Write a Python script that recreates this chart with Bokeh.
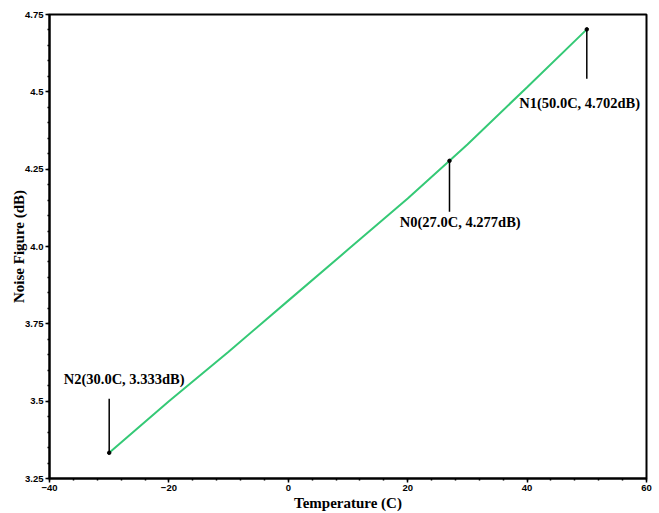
from bokeh.plotting import figure
from bokeh.models import FixedTicker, Range1d, ColumnDataSource
from bokeh.embed import file_html
from bokeh.resources import INLINE
from bokeh.core.properties import value

# ---- data ----
temp_c = [-30, -20, -10, 0, 10, 20, 27, 30, 40, 50]
noise_figure_db = [3.333, 3.50, 3.66, 3.825, 3.99, 4.155, 4.277, 4.33, 4.515, 4.702]

marker_names = ["N2", "N0", "N1"]
marker_temp = [-30.0, 27.0, 50.0]
marker_nf = [3.333, 4.277, 4.702]
marker_label_temp = [30.0, 27.0, 50.0]   # as printed on the chart

x_ticks = [-40, -20, 0, 20, 40, 60]
y_ticks = [3.25, 3.5, 3.75, 4.0, 4.25, 4.5, 4.75]
y_tick_labels = ["3.25", "3.5", "3.75", "4.0", "4.25", "4.5", "4.75"]

# ---- annotation styling (offsets) ----
leader_dy = [0.175, -0.165, -0.16]
label_dx = [2.5, 1.8, -1.2]
label_dy = [0.24, -0.198, -0.239]

p = figure(width=659, height=513, output_backend="svg", toolbar_location=None,
           x_range=Range1d(-40, 60), y_range=Range1d(3.25, 4.75),
           min_border_left=49, min_border_right=13, min_border_top=14, min_border_bottom=34)
p.background_fill_color = "white"
p.border_fill_color = "white"
p.outline_line_color = "black"
p.outline_line_width = 2
p.grid.visible = False

p.line(temp_c, noise_figure_db, line_color="#35c976", line_width=2)

src = ColumnDataSource(dict(
    x=marker_temp,
    y=marker_nf,
    y1=[v + d for v, d in zip(marker_nf, leader_dy)],
    lx=[t + d for t, d in zip(marker_temp, label_dx)],
    ly=[v + d for v, d in zip(marker_nf, label_dy)],
    text=[f"{n}({t:.1f}C, {v:.3f}dB)" for n, t, v in zip(marker_names, marker_label_temp, marker_nf)],
))
p.segment(x0="x", y0="y", x1="x", y1="y1", source=src, line_color="black", line_width=1.5)
p.scatter(x="x", y="y", source=src, size=3.5, color="black")
p.text(x="lx", y="ly", text="text", source=src, text_align="center", text_baseline="middle",
       text_font=value("Liberation Serif"), text_font_style="bold", text_font_size="14.5px",
       text_color="black")

for ax in (p.xaxis[0], p.yaxis[0]):
    ax.axis_line_width = 2
    ax.axis_line_color = "black"
    ax.major_tick_line_width = 1.5
    ax.major_tick_out = 4
    ax.major_tick_in = 0
    ax.minor_tick_out = 2
    ax.minor_tick_in = 0
    ax.minor_tick_line_width = 1.5
    ax.major_label_text_font = "Liberation Sans Narrow, Liberation Sans, sans-serif"
    ax.major_label_text_font_style = "bold"
    ax.major_label_text_font_size = "9.5px"
    ax.major_label_text_color = "black"
    ax.axis_label_text_font = "Liberation Serif"
    ax.axis_label_text_font_style = "bold"
    ax.axis_label_text_font_size = "15px"
    ax.axis_label_text_color = "black"

p.xaxis[0].ticker = FixedTicker(ticks=x_ticks, minor_ticks=[x_ticks[0] + 4 * i for i in range(26)])
p.yaxis[0].ticker = FixedTicker(ticks=y_ticks, minor_ticks=[round(y_ticks[0] + 0.05 * i, 2) for i in range(31)])
p.yaxis[0].major_label_overrides = {t: s for t, s in zip(y_ticks, y_tick_labels)}
p.xaxis[0].axis_label = "Temperature (C)"
p.yaxis[0].axis_label = "Noise Figure (dB)"
p.xaxis[0].major_label_standoff = 2
p.yaxis[0].major_label_standoff = 2
p.xaxis[0].axis_label_standoff = 1
p.yaxis[0].axis_label_standoff = -5

open("out.html", "w").write(file_html(p, INLINE))
